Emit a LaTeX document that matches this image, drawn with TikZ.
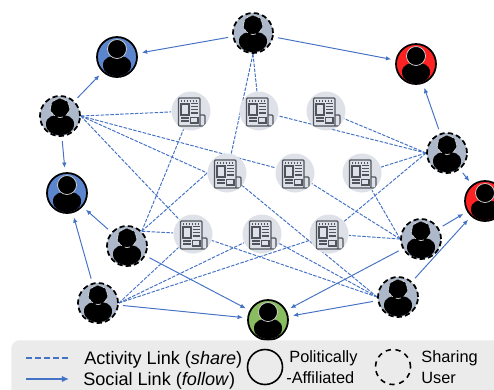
\documentclass[tikz,border=0pt]{standalone}
\usepackage{fontspec}
\setmainfont{Liberation Sans}
\usetikzlibrary{calc}
\usetikzlibrary{arrows.meta}
\usetikzlibrary{backgrounds}
\definecolor{linkBlue}{HTML}{4472C4}
\definecolor{iconGray}{HTML}{50545C}
\newcommand{\personicon}{
    \begin{scope}[shift={(path picture bounding box.center)}]
        \fill[black] (-.28,-.16) .. controls (-.28,-.02) and (-.13,.03) .. (0,.03) .. controls (.13,.03) and (.28,-.02) .. (.28,-.16) .. controls (.28,-.31) and (.15,-.38) .. (0,-.38) .. controls (-.15,-.38) and (-.28,-.31) .. cycle;
        \draw[fill=black, draw=white!70!gray, line width=.4pt] (0,.16) circle (.19);
    \end{scope}
}
\newcommand{\newsicon}{
    \begin{scope}[shift={(path picture bounding box.center)}, draw=iconGray, line width=.7pt]
        \draw[rounded corners=.5pt] (.18,-.3) -- (-.25,-.3) -- (-.25,.26) -- (.18,.26) -- cycle;
        \draw[rounded corners=.5pt] (.18,-.08) -- (.28,-.08) -- (.28,-.3) -- (.18,-.3);
        \draw (-.2,.14) rectangle (-.04,-.08);
        \draw (-.01,-.13) rectangle (.14,-.24);
        \draw[densely dotted] (-.2,.2) -- (.14,.2);
        \foreach \liney in {.15,.09,.03,-.04} {
            \draw (-.01,\liney) -- (.14,\liney);
        }
        \draw (-.2,-.14) -- (-.04,-.14);
        \draw (-.2,-.2) -- (-.04,-.2);
    \end{scope}
}
\tikzstyle{usernode} = [draw, circle, minimum size=.8cm, inner sep=0, line width=1pt, path picture={\personicon}]
\tikzstyle{sharenode} = [usernode, fill=colorShare, dash pattern=on 3pt off 1.8pt]
\tikzstyle{newsnode} = [circle, minimum size=.78cm, inner sep=0, fill=colorNews, path picture={\newsicon}]
\tikzstyle{sharelink} = [draw=linkBlue, line width=.55pt, dash pattern=on 2pt off .8pt]
\tikzstyle{followlink} = [draw=linkBlue, line width=.55pt, -{Latex[length=3pt,width=2.6pt]}, shorten <=2.5pt, shorten >=2.5pt]
\tikzstyle{legendtext} = [anchor=west, inner sep=0]
\definecolor{colorShare}{HTML}{ADB9CA}
\definecolor{colorNews}{HTML}{DEE1E8}
\definecolor{colorLeft}{HTML}{5B85CC}
\definecolor{colorRight}{HTML}{FF2222}
\definecolor{colorCenter}{HTML}{88BC5E}
\definecolor{colorLegend}{HTML}{EBEBEB}

\begin{document}
\begin{tikzpicture}
    \clip (0,0) rectangle (9.88,-7.78);
    % users
    \node[sharenode] (top_user) at (5.06,-0.66) {};
    \node[usernode, fill=colorLeft] (blue_top) at ($(top_user)+(-2.72,-0.48)$) {};
    \node[sharenode] (left_user) at ($(top_user)+(-3.86,-1.66)$) {};
    \node[usernode, fill=colorLeft] (blue_low) at ($(left_user)+(0.14,-1.54)$) {};
    \node[sharenode] (low_user_a) at ($(blue_low)+(1.2,-1.06)$) {};
    \node[sharenode] (low_user_b) at ($(low_user_a)+(-0.58,-1.14)$) {};
    \node[usernode, fill=colorCenter] (green_user) at ($(top_user)+(0.3,-5.74)$) {};
    \node[usernode, fill=colorRight] (red_top) at ($(top_user)+(3.26,-0.62)$) {};
    \node[sharenode] (right_user) at ($(red_top)+(0.62,-1.78)$) {};
    \node[usernode, fill=colorRight] (red_low) at ($(right_user)+(0.76,-0.96)$) {};
    \node[sharenode] (low_user_c) at ($(right_user)+(-0.52,-1.72)$) {};
    \node[sharenode] (low_user_d) at ($(low_user_c)+(-0.46,-1.16)$) {};
    % news items
    \node[newsnode] (news_1) at ($(top_user)+(-1.24,-1.56)$) {};
    \node[newsnode] (news_2) at ($(news_1)+(1.36,0)$) {};
    \node[newsnode] (news_3) at ($(news_2)+(1.34,0)$) {};
    \node[newsnode] (news_4) at ($(news_1)+(0.72,-1.24)$) {};
    \node[newsnode] (news_5) at ($(news_4)+(1.36,0)$) {};
    \node[newsnode] (news_6) at ($(news_5)+(1.34,0)$) {};
    \node[newsnode] (news_7) at ($(news_4)+(-0.68,-1.22)$) {};
    \node[newsnode] (news_8) at ($(news_7)+(1.38,0)$) {};
    \node[newsnode] (news_9) at ($(news_8)+(1.34,0)$) {};
    % activity links
    \begin{scope}[on background layer]
        \draw[sharelink] (left_user.east) -- (news_1);
        \draw[sharelink] (left_user.east) -- (news_4.west);
        \draw[sharelink] (left_user.east) -- (news_5);
        \draw[sharelink] (left_user.east) -- (news_7);
        \draw[sharelink] (top_user.south) -- (news_2);
        \draw[sharelink] (top_user.south) -- (news_4);
        \draw[sharelink] (right_user.west) -- (news_2);
        \draw[sharelink] (right_user.west) -- (news_3);
        \draw[sharelink] (right_user.west) -- (news_6);
        \draw[sharelink] (right_user.west) -- (news_9);
        \draw[sharelink] (low_user_a.north east) -- (news_1);
        \draw[sharelink] (low_user_a.north east) -- (news_4.west);
        \draw[sharelink] (low_user_a.north east) -- (news_7);
        \draw[sharelink] (low_user_b.east) -- (news_7);
        \draw[sharelink] (low_user_b.east) -- (news_8);
        \draw[sharelink] (low_user_b.east) -- (news_9);
        \draw[sharelink] (low_user_c.west) -- (news_5);
        \draw[sharelink] (low_user_c.west) -- (news_6);
        \draw[sharelink] (low_user_c.west) -- (news_9);
        \draw[sharelink] (low_user_d.west) -- (news_4);
        \draw[sharelink] (low_user_d.west) -- (news_7);
        \draw[sharelink] (low_user_d.west) -- (news_8);
    \end{scope}
    % social links
    \draw[followlink] (top_user) -- (blue_top);
    \draw[followlink] (left_user) -- (blue_top);
    \draw[followlink] (left_user) -- (blue_low);
    \draw[followlink] (low_user_a) -- (blue_low);
    \draw[followlink] (low_user_b) -- (blue_low);
    \draw[followlink] (low_user_a) -- (green_user);
    \draw[followlink] (low_user_b) -- (green_user);
    \draw[followlink] (low_user_c) -- (green_user);
    \draw[followlink] (low_user_d) -- (green_user);
    \draw[followlink] (low_user_c) -- (red_low);
    \draw[followlink] (low_user_d) -- (red_low);
    \draw[followlink] (right_user) -- (red_low);
    \draw[followlink] (right_user) -- (red_top);
    \draw[followlink] (top_user) -- (red_top);
    % legend
    \node[fill=colorLegend, rounded corners=.16cm, minimum width=11cm, minimum height=2cm, anchor=north west, inner sep=0] (legend_box) at (0.22,-6.8) {};
    \coordinate (share_start) at (0.52,-7.16);
    \coordinate (share_end) at (1.38,-7.16);
    \coordinate (follow_start) at (0.52,-7.58);
    \coordinate (follow_end) at (1.38,-7.58);
    \draw[draw=linkBlue, line width=1pt, dash pattern=on 3.4pt off 1.7pt] (share_start) -- (share_end);
    \draw[draw=linkBlue, line width=1pt, -{Latex[length=4pt,width=3.6pt]}] (follow_start) -- (follow_end);
    \node[legendtext, font=\fontsize{10.3}{12}\selectfont] (share_label) at (1.68,-7.2) {Activity Link (\textit{share})};
    \node[legendtext, font=\fontsize{10.3}{12}\selectfont] (follow_label) at (1.66,-7.62) {Social Link (\textit{follow})};
    \node[draw, circle, minimum size=.7cm, inner sep=0, line width=.9pt] (legend_party) at (5.3,-7.34) {};
    \node[legendtext, font=\fontsize{9.3}{12}\selectfont] (party_top) at (5.78,-7.16) {Politically};
    \node[legendtext, font=\fontsize{9.3}{12}\selectfont] (party_low) at (5.72,-7.56) {-Affiliated};
    \node[draw, circle, minimum size=.7cm, inner sep=0, line width=.9pt, dash pattern=on 3pt off 2.6pt] (legend_share) at (7.86,-7.34) {};
    \node[legendtext, font=\fontsize{9.3}{12}\selectfont] (share_top) at (8.42,-7.16) {Sharing};
    \node[legendtext, font=\fontsize{9.3}{12}\selectfont] (share_low) at (8.42,-7.56) {User};
\end{tikzpicture}
\end{document}
